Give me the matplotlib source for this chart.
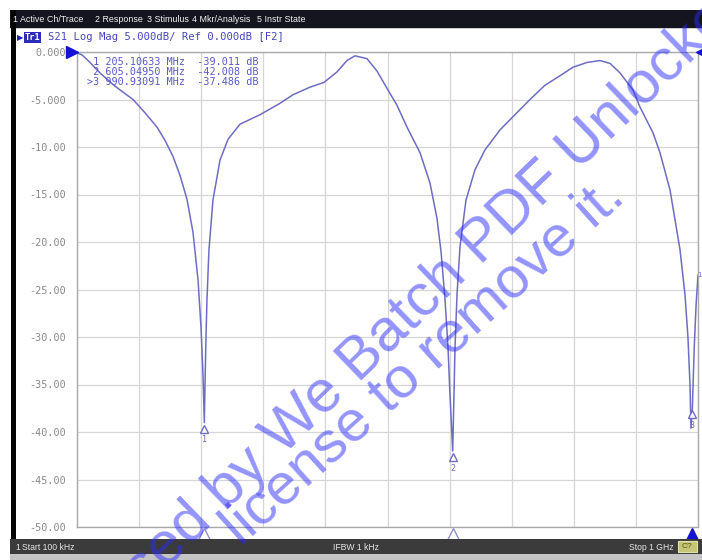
import numpy as np
import matplotlib
matplotlib.use("Agg")
import matplotlib.pyplot as plt
import matplotlib.transforms as mtransforms
from matplotlib.patches import Rectangle

W, H, DPI = 702, 560, 100

# S21 log-magnitude sweep, 100 kHz .. 1 GHz (MHz, dB)
freq_mhz = [0.1, 8.2, 21.0, 37.0, 61.3, 90.3, 109.6, 128.9, 141.8, 154.7,
            166.0, 177.2, 186.9, 195.0, 199.8, 203.0, 205.10633, 206.2, 207.8, 209.4,
            212.6, 219.0, 230.3, 243.2, 262.5, 294.8, 326.9, 347.9, 375.3, 397.8,
            418.7, 434.8, 447.7, 467.0, 483.1, 500.8, 515.3, 531.4, 552.4, 568.5,
            579.7, 586.2, 592.6, 597.4, 600.6, 605.0495, 607.1, 608.8, 612.0, 616.8,
            626.4, 640.9, 657.0, 681.2, 705.3, 729.5, 753.6, 777.8, 798.7, 821.3,
            842.2, 858.3, 874.4, 895.3, 906.6, 927.5, 938.8, 954.9, 971.0, 979.0,
            983.8, 987.1, 988.7, 990.93091, 994.0, 997.0, 1000.0]
s21_db = [-0.1, -0.3, -1.1, -2.2, -3.6, -5.0, -6.4, -7.9, -9.3, -11.0,
          -13.0, -15.5, -19.0, -24.0, -29.0, -34.0, -39.011, -35.0, -30.0, -26.0,
          -20.8, -15.6, -11.4, -9.2, -7.6, -6.6, -5.4, -4.5, -3.7, -3.2,
          -2.1, -0.9, -0.4, -0.7, -2.0, -4.0, -5.6, -7.9, -10.6, -13.8,
          -17.5, -21.0, -26.0, -31.0, -36.0, -42.008, -36.0, -31.0, -25.5, -20.5,
          -15.6, -12.4, -10.3, -8.2, -6.6, -5.0, -3.5, -2.5, -1.6, -1.1,
          -0.9, -1.2, -2.2, -4.0, -5.8, -8.5, -10.6, -14.5, -20.8, -25.5,
          -30.0, -35.0, -39.6, -37.486, -31.0, -26.5, -23.5]

marker_ids = ["1", "2", ">3"]
marker_freq = [205.10633, 605.04950, 990.93091]
marker_db = [-39.011, -42.008, -37.486]

y_ticks = [0, -5, -10, -15, -20, -25, -30, -35, -40, -45, -50]
y_labels = ["0.000", "-5.000", "-10.00", "-15.00", "-20.00", "-25.00",
            "-30.00", "-35.00", "-40.00", "-45.00", "-50.00"]
f_start, f_stop = 0.1, 1000.0
ref_level = 0.0

menu_items = ["1 Active Ch/Trace", "2 Response", "3 Stimulus",
              "4 Mkr/Analysis", "5 Instr State"]
menu_x = [13, 95, 147, 192, 257]

trace_col = "#6d6dc2"
mono = "DejaVu Sans Mono"
narrow = ["Liberation Sans Narrow", "Liberation Sans", "DejaVu Sans"]

fig = plt.figure(figsize=(W / DPI, H / DPI), dpi=DPI)
fig.patch.set_facecolor("white")

# measurement grid
L, R, T, B = 77, 698, 52, 527
ax = fig.add_axes([L / W, 1 - B / H, (R - L) / W, (B - T) / H])
ax.set_xlim(f_start, f_stop)
ax.set_ylim(y_ticks[-1], y_ticks[0])
ax.set_xticks(np.linspace(f_start, f_stop, 11))
ax.set_xticklabels([])
ax.set_yticks(y_ticks)
ax.set_yticklabels(y_labels, family=mono, fontsize=7.3, color="#8a8a8a")
ax.tick_params(length=0, pad=8)
ax.grid(True, color="#d6d6d6", lw=0.9)
for s in ax.spines.values():
    s.set_color("#a9a9a9")
    s.set_linewidth(1.0)

ax.plot(freq_mhz, s21_db, color=trace_col, lw=1.1, zorder=3)

# marker triangles below each marker point, with numbers
tri_tr = mtransforms.offset_copy(ax.transData, fig=fig, x=0, y=-6, units="dots")
for mid, f, v in zip(marker_ids, marker_freq, marker_db):
    ax.plot([f], [v], marker="^", ms=6, mfc="white", mec=trace_col, mew=1.0,
            transform=tri_tr, zorder=4, clip_on=False)
    ax.annotate(mid.strip(">"), xy=(f, v), xytext=(0, -12.5), textcoords="offset points",
                ha="center", va="center", fontsize=6, color=trace_col, family=mono)

# stimulus markers on the bottom edge
ax.plot(marker_freq[:2], [y_ticks[-1] - 0.75] * 2, ls="none", marker="^", ms=8,
        mfc="white", mec="#9090cc", mew=1.0, clip_on=False, zorder=5)
ax.plot(marker_freq[2:], [y_ticks[-1] - 0.72], ls="none", marker="^", ms=8,
        mfc="#1414d2", mec="#1414d2", clip_on=False, zorder=5)

# reference level arrow on the left, active-marker tab on the right
ref_tr = mtransforms.offset_copy(ax.transData, fig=fig, x=-5, y=0, units="dots")
ax.plot([f_start], [ref_level], marker=">", ms=9, color="#1414d2",
        transform=ref_tr, clip_on=False, zorder=6)
edge_tr = mtransforms.offset_copy(ax.transData, fig=fig, x=3, y=0, units="dots")
ax.plot([f_stop], [ref_level], marker="<", ms=7, color="#1414d2",
        transform=edge_tr, clip_on=False, zorder=6)
ax.annotate("1", xy=(f_stop, s21_db[-1]), xytext=(-0.5, 0), textcoords="offset points",
            fontsize=5.0, color=trace_col, va="center", ha="left", family=mono,
            annotation_clip=False)

# window chrome in pixel coordinates
ov = fig.add_axes([0, 0, 1, 1], zorder=10)
ov.set_xlim(0, W)
ov.set_ylim(H, 0)
ov.axis("off")
ov.patch.set_alpha(0)

# marker readout table
for i, (mid, f, v) in enumerate(zip(marker_ids, marker_freq, marker_db)):
    txt = f"{mid:>2} {f:.5f} MHz  {v:.3f} dB"
    ov.text(87, 62 + 10 * i, txt, fontsize=7.3, family=mono, color="#5a5ac4",
            va="center", ha="left")

ov.add_patch(Rectangle((10, 10), W - 10, 18, color="#15151f", lw=0))
ov.add_patch(Rectangle((10, 28), W - 10, 1.2, color="#cfcfcf", lw=0))
for label, x in zip(menu_items, menu_x):
    ov.text(x, 19, label, fontsize=6.4, color="#f2f2f2", family=narrow,
            va="center", ha="left")

ov.add_patch(Rectangle((11, 10), 5, H - 10, color="#050505", lw=0))

# trace title row
ov.text(17, 37.5, "\u25B6", fontsize=6, color="#2020b8", va="center", ha="left",
        family="DejaVu Sans")
ov.add_patch(Rectangle((24, 31.5), 17, 11, color="#2b2bb5", lw=0))
ov.text(32.5, 37.3, "Tr1", fontsize=6.3, color="white", va="center", ha="center",
        family=mono, weight="bold")
ov.text(48, 37.5, "S21 Log Mag 5.000dB/ Ref 0.000dB [F2]", fontsize=7.6,
        color="#4646b6", family=mono, va="center", ha="left")

# status bar
ov.add_patch(Rectangle((10, 539), W - 10, 15, color="#3b3b3b", lw=0))
ov.add_patch(Rectangle((10, 554), W - 10, 6, color="#c4c4c4", lw=0))
ov.text(15, 547, "1", fontsize=6.2, color="#e6e6e6", family=narrow, va="center")
ov.text(22, 547, "Start 100 kHz", fontsize=6.2, color="#e6e6e6", family=narrow, va="center")
ov.text(356, 547, "IFBW 1 kHz", fontsize=6.2, color="#e6e6e6", family=narrow,
        va="center", ha="center")
ov.text(674, 547, "Stop 1 GHz", fontsize=6.2, color="#e6e6e6", family=narrow,
        va="center", ha="right")
ov.add_patch(Rectangle((678, 541), 19, 11, facecolor="#c6c676", edgecolor="#e2e2a8", lw=0.8))
ov.text(687.5, 546.8, "C?", fontsize=6.0, color="#55551e", family=narrow,
        va="center", ha="center")

# diagonal overlay stamp
ov.text(368, 352, "Processed by We Batch PDF Unlocker", fontsize=43, color="#2a2aff",
        alpha=0.5, rotation=44, rotation_mode="anchor", ha="center", va="center",
        family="Liberation Sans")
ov.text(424, 362, "license to remove it.", fontsize=42, color="#2a2aff",
        alpha=0.5, rotation=42, rotation_mode="anchor", ha="center", va="center",
        family="Liberation Sans")

fig.savefig("out.png", dpi=DPI)
